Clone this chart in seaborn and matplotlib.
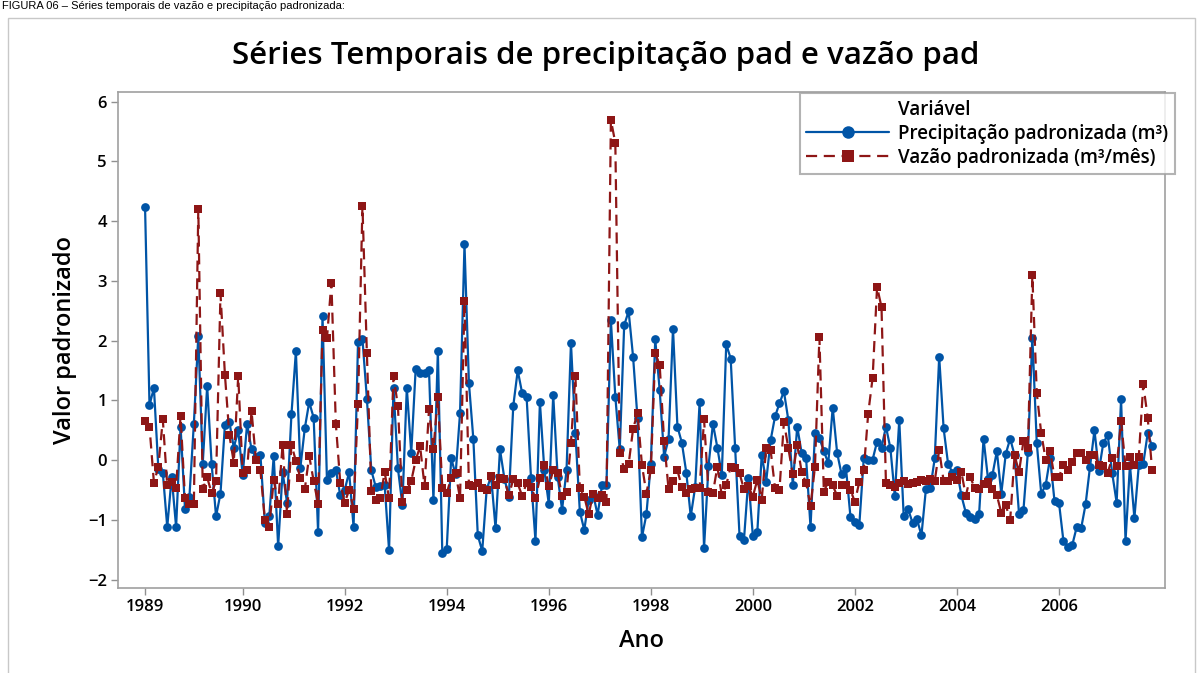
import pandas as pd
import seaborn as sns
import matplotlib.pyplot as plt
from matplotlib.lines import Line2D
from matplotlib.patches import Rectangle

# precipitação padronizada (mensal, jan/1989 em diante)
precip = [4.23, 0.92, 1.21, -0.15, -0.21, -1.12, -0.28, -1.12, 0.56, -0.81, -0.61, 0.61, 2.08, -0.06, 1.24, -0.06, -0.94, -0.56, 0.59, 0.64, 0.21,
          0.5, -0.25, 0.6, 0.18, 0.05, 0.09, -1.05, -0.94, 0.07, -1.44, -0.2, -0.71, 0.77, 1.82, -0.13, 0.53, 0.97, 0.71, -1.2, 2.41, -0.34, -0.21, -0.16, -0.59, -0.5,
          -0.2, -1.12, 1.97, 2.03, 1.03, -0.17, -0.45, -0.43, -0.41, -1.51, 1.21, -0.14, -0.75, 1.21, 0.12, 1.53, 1.46, 1.45, 1.51, -0.67, 1.83, -1.56, -1.48, 0.03,
          -0.24, 0.79, 3.61, 1.29, 0.35, -1.26, -1.52, -0.49, -0.27, -1.14, 0.18, -0.31, -0.61, 0.91, 1.5, 1.12, 1.06, -0.3, -1.35, 0.97, -0.17, -0.73, 1.09,
          -0.28, -0.83, -0.17, 1.96, 0.45, -0.86, -1.17, -0.66, -0.56, -0.92, -0.42, -0.42, 2.34, 1.06, 0.18, 2.26, 2.49, 1.73, 0.7, -1.29, -0.91, -0.06, 2.02,
          1.17, 0.06, 0.35, 2.2, 0.56, 0.29, -0.21, -0.94, -0.45, 0.97, -1.47, -0.1, 0.61, 0.21, -0.25, 1.94, 1.7, 0.21, -1.27, -1.33, -0.3, -1.27, -1.21,
          0.09, -0.36, 0.33, 0.73, 0.95, 1.15, 0.67, -0.41, 0.56, 0.12, 0.03, -1.12, 0.45, 0.37, 0.15, -0.05, 0.88, 0.12, -0.24, -0.14, -0.95, -1.03, -1.08, 0.03,
          0.01, 0.01, 0.31, 0.21, 0.56, 0.2, -0.6, 0.67, -0.94, -0.82, -1.05, -0.99, -1.26, -0.49, -0.47, 0.03, 1.73, 0.53, -0.06, -0.21, -0.17, -0.59, -0.88, -0.95, -0.98,
          -0.9, 0.36, -0.31, -0.25, 0.15, -0.56, 0.1, 0.36, 0.08, -0.9, -0.83, 0.14, 2.05, 0.28, -0.56, -0.42, 0.04, -0.69, -0.71, -1.35, -1.46, -1.42, -1.12,
          -1.14, -0.74, -0.11, 0.5, -0.18, 0.29, 0.42, -0.22, -0.71, 1.02, -1.35, -0.08, -0.97, -0.08, -0.06, 0.45, 0.23]

# vazão padronizada
vazao = [0.65, 0.56, -0.38, -0.11, 0.68, -0.42, -0.36, -0.46, 0.74, -0.64, -0.73, -0.73, 4.2, -0.49, -0.29, -0.55, -0.35, 2.79, 1.43, 0.42, -0.04,
         1.41, -0.22, -0.17, 0.82, 0.0, -0.17, -1.0, -1.12, -0.33, -0.73, 0.26, -0.9, 0.26, -0.02, -0.3, -0.49, 0.07, -0.35, -0.73, 2.18, 2.04, 2.97, 0.61, -0.38, -0.71, -0.5,
         -0.81, 0.94, 4.26, 1.79, -0.52, -0.66, -0.64, -0.2, -0.64, 1.41, 0.9, -0.7, -0.5, -0.35, 0.0, 0.23, -0.44, 0.85, 0.18, 1.06, -0.46, -0.55, -0.3,
         -0.22, -0.64, 2.67, -0.42, -0.44, -0.39, -0.46, -0.5, -0.27, -0.42, -0.3, -0.32, -0.59, -0.32, -0.39, -0.6, -0.38, -0.45, -0.64, -0.3, -0.08, -0.44, -0.17,
         -0.22, -0.6, -0.53, 0.29, 1.41, -0.46, -0.61, -0.91, -0.56, -0.63, -0.59, -0.7, 5.69, 5.31, 0.12, -0.15, -0.07, 0.52, 0.79, -0.08, -0.56, -0.17, 1.79, 1.59,
         0.32, -0.49, -0.35, -0.17, -0.45, -0.55, -0.49, -0.46, -0.47, 0.68, -0.53, -0.55, -0.11, -0.59, -0.42, -0.11, -0.14, -0.22, -0.49, -0.44, -0.61, -0.33, -0.66, 0.2,
         0.17, -0.47, -0.5, 0.64, 0.2, -0.24, 0.26, -0.2, -0.38, -0.77, -0.11, 2.06, -0.53, -0.36, -0.42, -0.6, -0.42, -0.42, -0.5, -0.7, -0.36, -0.17, 0.78,
         1.38, 2.9, 2.56, -0.39, -0.41, -0.45, -0.39, -0.35, -0.4, -0.38, -0.36, -0.33, -0.35, -0.31, -0.35, 0.17, -0.35, -0.35, -0.28, -0.33, -0.2, -0.6, -0.28, -0.47,
         -0.49, -0.4, -0.36, -0.49, -0.59, -0.88, -0.75, -1.0, 0.08, -0.2, 0.32, 0.21, 3.09, 1.12, 0.45, 0.01, 0.15, -0.29, -0.28, -0.08, -0.16, -0.03, 0.12,
         0.12, 0.01, 0.09, 0.09, -0.08, -0.1, -0.21, 0.04, -0.1, 0.65, -0.1, 0.06, -0.08, 0.06, 1.27, 0.71, -0.17]

tick_idx = [1, 23, 46, 69, 92, 115, 138, 161, 184, 207]
tick_lab = ['1989', '1990', '1992', '1994', '1996', '1998', '2000', '2002', '2004', '2006']

lab_p = 'Precipitação padronizada (m³)'
lab_v = 'Vazão padronizada (m³/mês)'
blue = '#0054A6'
red = '#8E1616'

sns.set_theme(style='white')
plt.rcParams['font.family'] = ['Open Sans', 'DejaVu Sans']
plt.rcParams['text.color'] = 'black'
plt.rcParams['axes.labelcolor'] = 'black'
plt.rcParams['xtick.color'] = 'black'
plt.rcParams['ytick.color'] = 'black'

n = len(precip)
df = pd.DataFrame({
    'Index': list(range(1, n + 1)) * 2,
    'Valor': precip + vazao,
    'Variável': [lab_p] * n + [lab_v] * n,
})

fig = plt.figure(figsize=(12, 6.73), dpi=100)
ax = fig.add_axes([118 / 1200, 1 - 588 / 673, 1047 / 1200, 496 / 673])

sns.lineplot(data=df, x='Index', y='Valor', hue='Variável', style='Variável',
             palette={lab_p: blue, lab_v: red},
             markers={lab_p: 'o', lab_v: 's'},
             dashes={lab_p: '', lab_v: (5, 3)},
             markersize=6.3, markeredgewidth=0, linewidth=1.6, ax=ax, legend=False)

ax.set_xlim(-5.1, 230.9)
ax.set_ylim(-2.14, 6.16)
ax.set_xticks(tick_idx)
ax.set_xticklabels(tick_lab)
ax.set_yticks(range(-2, 7))
ax.tick_params(axis='both', direction='out', length=5, width=1, color='#909090',
               labelsize=12, bottom=True, left=True, pad=3)
for lbl in ax.get_xticklabels() + ax.get_yticklabels():
    lbl.set_fontweight('semibold')
for s in ax.spines.values():
    s.set_color('#a0a0a0')
    s.set_linewidth(1.2)

ax.set_xlabel('Ano', fontsize=17, fontweight='semibold', labelpad=10)
ax.set_ylabel('Valor padronizado', fontsize=17, fontweight='semibold', labelpad=8)

# legenda estilo Minitab
handles = [Line2D([], [], linestyle='none', marker=None),
           Line2D([], [], color=blue, lw=1.6, marker='o', markersize=9, markeredgewidth=0),
           Line2D([], [], color=red, lw=1.6, marker='s', markersize=8, markeredgewidth=0, dashes=(5, 3))]
leg = ax.legend(handles, ['Variável', lab_p, lab_v], loc='upper right',
                bbox_to_anchor=(1175 / 1200, 1 - 93 / 673), bbox_transform=fig.transFigure,
                frameon=True, fancybox=False, edgecolor='#a0a0a0', fontsize=13.5,
                handlelength=4.4, handletextpad=0.5, labelspacing=0.22, borderpad=0.35,
                borderaxespad=0)
leg.get_frame().set_linewidth(1.5)
for t in leg.get_texts():
    t.set_fontweight('semibold')

fig.text(0.505, 1 - 56 / 673, 'Séries Temporais de precipitação pad e vazão pad',
         ha='center', va='center', fontsize=22.5, fontweight='semibold')

# cabeçalho e moldura do gráfico
fig.text(0.002, 0.999, 'FIGURA 06 – Séries temporais de vazão e precipitação padronizada:',
         ha='left', va='top', fontsize=8, family='Liberation Sans')
fig.patches.append(Rectangle((8 / 1200, -0.05), 1187 / 1200, 1.05 - 18 / 673,
                             transform=fig.transFigure, fill=False,
                             edgecolor='#c8c8c8', linewidth=1))

fig.savefig('out.png', dpi=100)
